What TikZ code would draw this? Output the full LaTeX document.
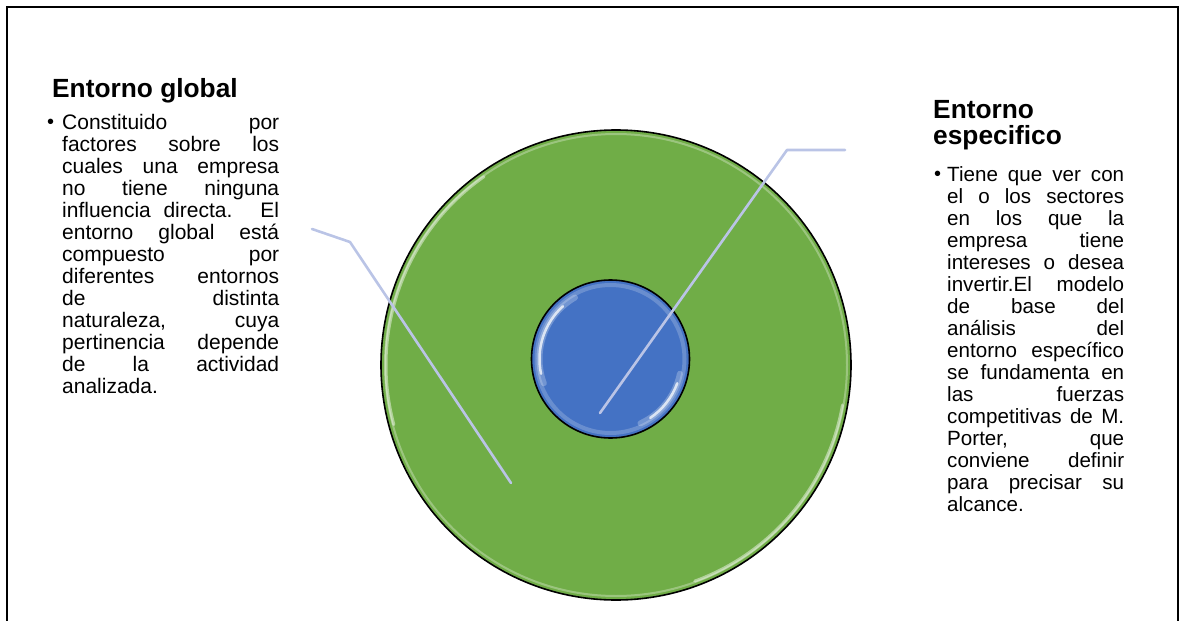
\documentclass[tikz,border=0pt]{standalone}
\usepackage{fontspec}
\setmainfont{Liberation Sans}
\definecolor{ringgreen}{HTML}{70AD47}
\definecolor{coreblue}{HTML}{4472C4}
\definecolor{leader}{RGB}{186,196,230}
\newcommand\jl[2]{\makebox[#1][s]{#2}\\}
\newcommand\bul[1]{\llap{\makebox[#1][l]{\raisebox{0.5pt}{\fontsize{20}{20}\selectfont •}}}}
\begin{document}
\begin{tikzpicture}[x=1pt,y=-1pt,
  title/.style={font={\fontsize{26.3}{26}\selectfont\bfseries}, inner sep=0pt, align=left, anchor=base west},
  bodyl/.style={font={\fontsize{21}{22}\selectfont}, inner sep=0pt, align=left, anchor=base west},
  bodyr/.style={font={\fontsize{20.6}{22}\selectfont}, inner sep=0pt, align=left, anchor=base west},
  leaderline/.style={draw=leader, line width=2.6pt, line join=round, line cap=round},
  disc/.style={circle, draw=black, line width=1.6pt, inner sep=0pt},
  glow/.style={draw=white, line cap=round}]
\useasboundingbox (0,0) rectangle (1179,621);
\draw[line width=2pt] (7,7) rectangle (1177.5,640);

% outer ring
\node[disc, fill=ringgreen, minimum size=470pt] (outer) at (616,365) {};
\draw[glow, line width=2pt, opacity=0.3] (outer.center) circle[radius=231];
\draw[glow, line width=3pt, opacity=0.45] (outer.center) ++(165:230) arc[start angle=165, end angle=235, radius=230];
\draw[glow, line width=3pt, opacity=0.45] (outer.center) ++(10:230) arc[start angle=10, end angle=70, radius=230];

% inner core
\node[disc, fill=coreblue, minimum size=158pt] (inner) at (610.5,359) {};
\draw[glow, line width=4pt, opacity=0.2] (inner.center) circle[radius=74];
\draw[glow, line width=6pt, opacity=0.25] (inner.center) ++(160:71) arc[start angle=160, end angle=240, radius=71];
\draw[glow, line width=2.5pt, opacity=0.75] (inner.center) ++(168:71) arc[start angle=168, end angle=228, radius=71];
\draw[glow, line width=6pt, opacity=0.25] (inner.center) ++(12:71) arc[start angle=12, end angle=65, radius=71];
\draw[glow, line width=2.5pt, opacity=0.75] (inner.center) ++(20:71) arc[start angle=20, end angle=56, radius=71];

% leader lines
\coordinate (g0) at (312,229);
\coordinate (g1) at (350,242);
\coordinate (g2) at (511,483);
\coordinate (e0) at (600,413);
\coordinate (e1) at (787,150);
\coordinate (e2) at (845,150);
\draw[leaderline] (g0) -- (g1) -- (g2);
\draw[leaderline] (e0) -- (e1) -- (e2);

% left text (base anchor = baseline of last line)
\node[title] (tglobal) at (52,97) {Entorno global};
\node[bodyl] (bglobal) at (62,393) {%
\jl{217pt}{\bul{15pt}Constituido por}%
\jl{217pt}{factores sobre los}%
\jl{217pt}{cuales una empresa}%
\jl{217pt}{no tiene ninguna}%
\jl{217pt}{influencia directa. El}%
\jl{217pt}{entorno global está}%
\jl{217pt}{compuesto por}%
\jl{217pt}{diferentes entornos}%
\jl{217pt}{de distinta}%
\jl{217pt}{naturaleza, cuya}%
\jl{217pt}{pertinencia depende}%
\jl{217pt}{de la actividad}%
analizada.};

% right text
\node[title] (tespec) at (933,144) {Entorno\\especifico};
\node[bodyr] (bespec) at (947,511) {%
\jl{177pt}{\bul{13pt}Tiene que ver con}%
\jl{177pt}{el o los sectores}%
\jl{177pt}{en los que la}%
\jl{177pt}{empresa tiene}%
\jl{177pt}{intereses o desea}%
\jl{177pt}{invertir.El modelo}%
\jl{177pt}{de base del}%
\jl{177pt}{análisis del}%
\jl{177pt}{entorno específico}%
\jl{177pt}{se fundamenta en}%
\jl{177pt}{las fuerzas}%
\jl{177pt}{competitivas de M.}%
\jl{177pt}{Porter, que}%
\jl{177pt}{conviene definir}%
\jl{177pt}{para precisar su}%
alcance.};
\end{tikzpicture}
\end{document}
